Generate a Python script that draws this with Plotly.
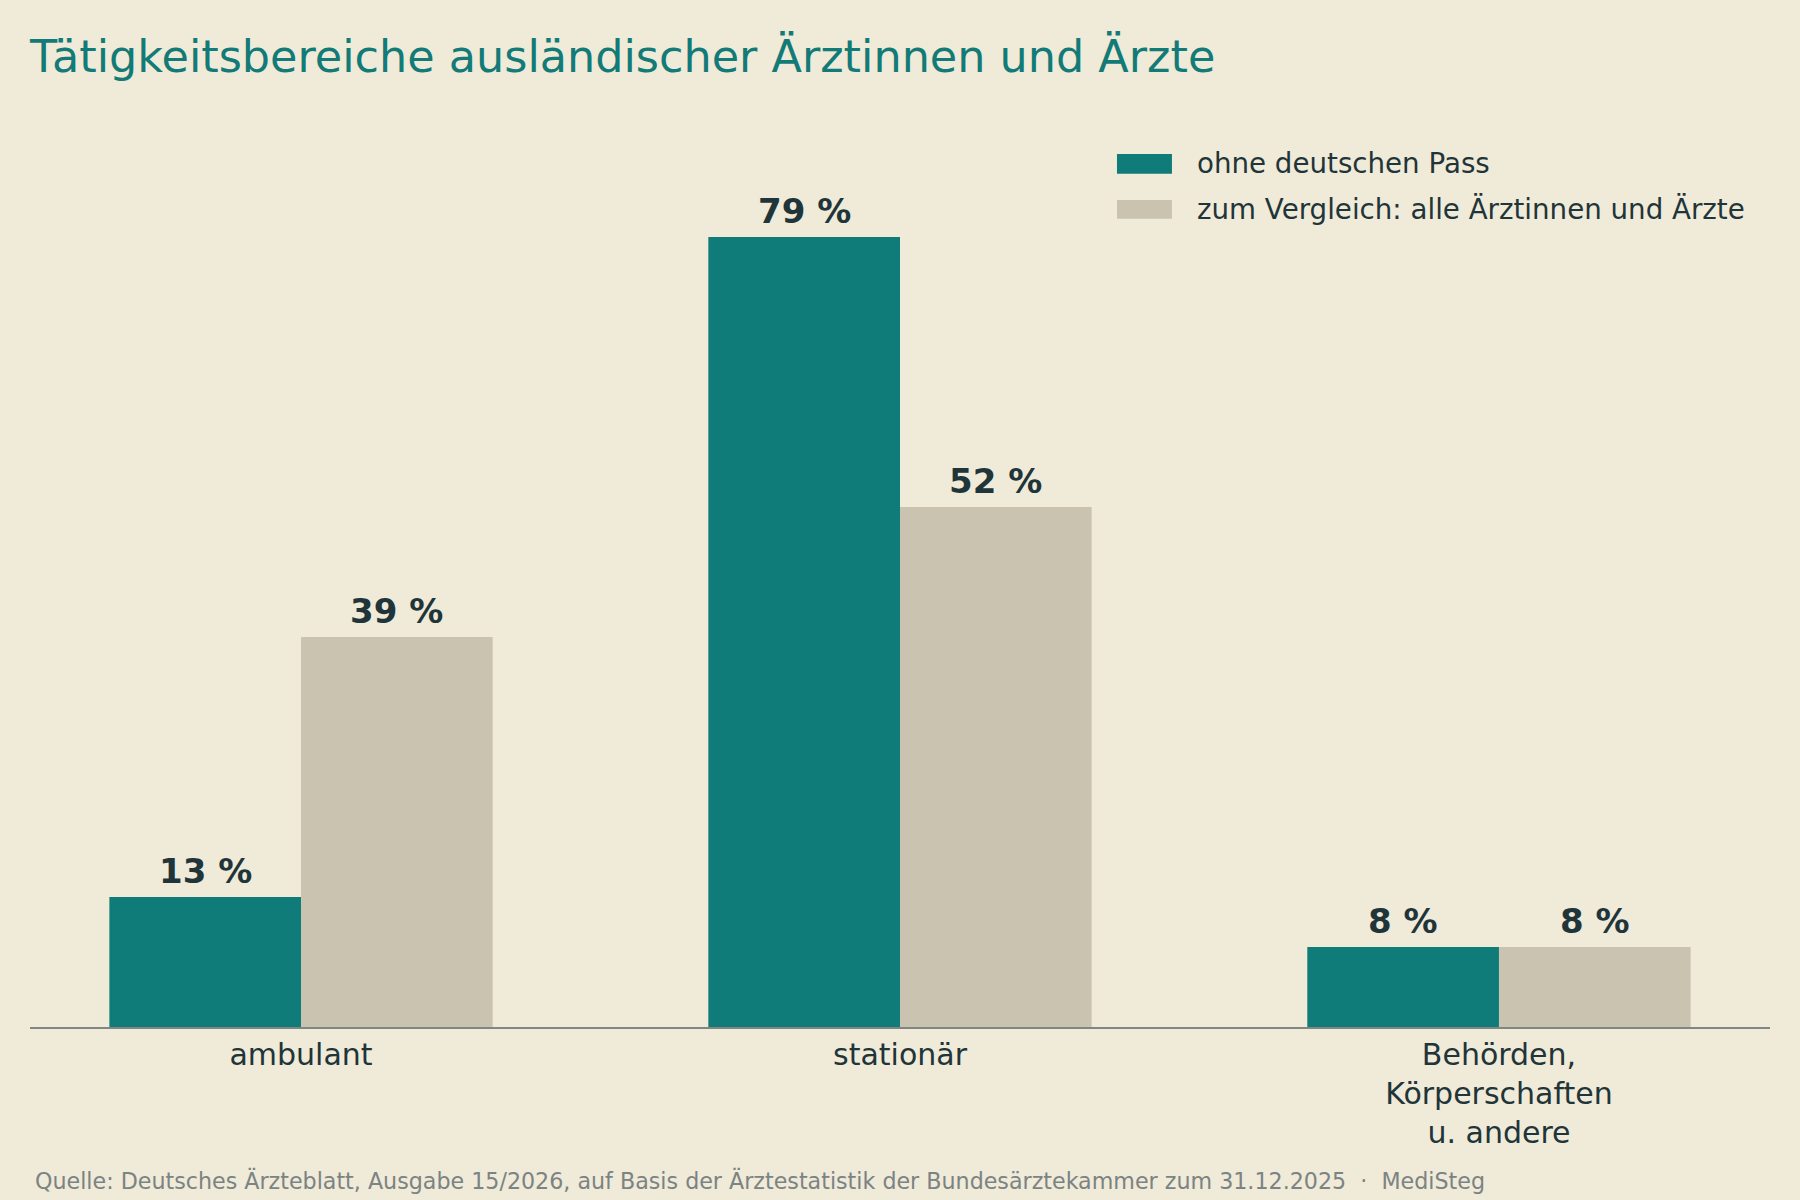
import plotly.graph_objects as go

categories = ["ambulant", "stationär", "Behörden,<br>Körperschaften<br>u. andere"]
series_names = ["ohne deutschen Pass", "zum Vergleich: alle Ärztinnen und Ärzte"]
auslaendisch = [13, 79, 8]
alle = [39, 52, 8]

teal = "#0f7c7a"
beige = "#cac3af"
bg = "#f0ead8"
dark = "#1f3539"
font = "DejaVu Sans"

fig = go.Figure()
fig.add_trace(go.Bar(x=categories, y=auslaendisch, name=series_names[0],
                     marker=dict(color=teal, line=dict(width=0))))
fig.add_trace(go.Bar(x=categories, y=alle, name=series_names[1],
                     marker=dict(color=beige, line=dict(width=0))))

bargap = 0.36
half = (1 - bargap) / 4  # offset of each bar centre from the category centre

# value labels above the bars
for i in range(len(categories)):
    for dx, vals in ((-half, auslaendisch), (half, alle)):
        fig.add_annotation(x=i + dx, y=vals[i], text=f"<b>{vals[i]} %</b>",
                           showarrow=False, yanchor="bottom", yshift=4,
                           font=dict(size=34, color=dark, family=font))

# legend drawn by hand so the swatches can be wide rectangles
legend_rows = [(0.970, 0.948, teal), (0.919, 0.898, beige)]
for (y1, y0, col), name in zip(legend_rows, series_names):
    fig.add_shape(type="rect", xref="paper", yref="paper",
                  x0=0.6247, x1=0.6563, y0=y0, y1=y1,
                  fillcolor=col, line=dict(width=0))
    fig.add_annotation(xref="paper", yref="paper", x=0.6695, y=(y0 + y1) / 2,
                       text=name, showarrow=False, xanchor="left", yanchor="middle",
                       font=dict(size=27.7, color=dark, family=font))

fig.add_annotation(xref="paper", yref="paper", x=0.002, y=-0.17,
                   text="Quelle: Deutsches Ärzteblatt, Ausgabe 15/2026, auf Basis der "
                        "Ärztestatistik der Bundesärztekammer zum 31.12.2025  ·  MediSteg",
                   showarrow=False, xanchor="left", yanchor="middle",
                   font=dict(size=22.2, color="#7b8383", family=font))

fig.update_layout(
    width=1800, height=1200,
    paper_bgcolor=bg, plot_bgcolor=bg,
    barmode="group", bargap=bargap, bargroupgap=0,
    showlegend=False,
    margin=dict(l=30, r=30, t=127, b=173),
    font=dict(family=font, color=dark),
    title=dict(text="Tätigkeitsbereiche ausländischer Ärztinnen und Ärzte",
               x=30 / 1800, xref="container", xanchor="left",
               y=1 - 56 / 1200, yref="container", yanchor="middle",
               font=dict(size=44.5, color="#127a77", family=font)),
    xaxis=dict(range=[-0.4525, 2.4525], showline=True, linecolor="#808585",
               linewidth=2, ticks="",
               tickfont=dict(size=30, color=dark, family=font), showgrid=False),
    yaxis=dict(range=[0, 90], visible=False, showgrid=False, zeroline=False),
)

fig.write_html("out.html", config={"displayModeBar": False},
               post_script="document.body.style.margin='0';")
